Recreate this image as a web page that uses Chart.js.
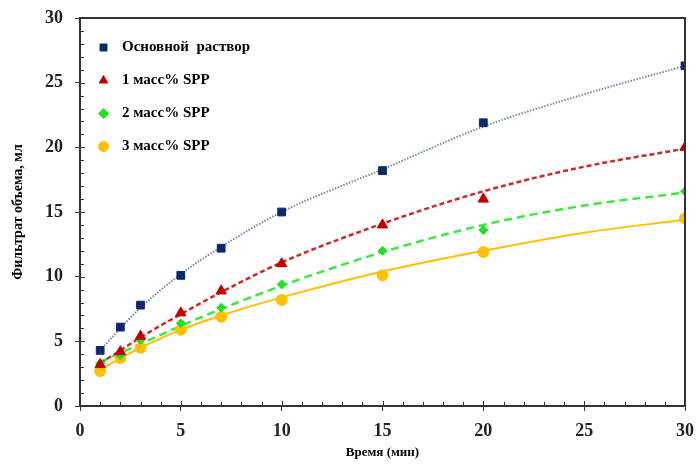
<!DOCTYPE html>
<html>
<head>
<meta charset="utf-8">
<script src="https://cdn.jsdelivr.net/npm/chart.js@4.4.0/dist/chart.umd.min.js"></script>
<style>
  html, body { margin: 0; padding: 0; background: #fff; }
  #wrap { width: 697px; height: 464px; }
</style>
</head>
<body>
<div id="wrap"><canvas id="filtrChart" width="697" height="464"></canvas></div>
<script>
// time, min
const times = [1, 2, 3, 5, 7, 10, 15, 20, 30];
// measured filtrate volume, ml
const baseFluid = [4.3, 6.1, 7.8, 10.1, 12.2, 15.0, 18.2, 21.9, 26.3];
const spp1 = [3.2, 4.2, 5.4, 7.2, 8.9, 11.0, 14.0, 16.0, 20.0];
const spp2 = [3.3, 3.9, 5.1, 6.4, 7.6, 9.4, 12.0, 13.6, 16.6];
const spp3 = [2.7, 3.7, 4.5, 5.9, 6.9, 8.2, 10.1, 11.9, 14.5];

// trendlines
const trendTimes = [1, 2, 3, 5, 7, 10, 15, 20, 25, 30];
const baseTrend = [4.3, 6.0, 7.6, 10.2, 12.3, 15.0, 18.3, 21.6, 24.1, 26.3];
const spp1Trend = [3.3, 4.3, 5.3, 7.1, 8.8, 11.1, 14.1, 16.6, 18.5, 19.9];
const spp2Trend = [3.4, 4.1, 4.8, 6.2, 7.5, 9.3, 11.9, 14.0, 15.5, 16.5];
const spp3Trend = [2.8, 3.7, 4.5, 5.9, 7.0, 8.4, 10.4, 12.0, 13.4, 14.4];

const seriesNames = ["Основной  раствор", "1 масс% SPP", "2 масс% SPP", "3 масс% SPP"];

function pts(xs, ys) {
    return xs.map(function (x, i) { return { x: x, y: ys[i] }; });
}

const axisColor = "#333333";
const serif = "'Liberation Serif', 'Times New Roman', serif";

// minor ticks inside the frame + top/right frame lines
const framePlugin = {
    id: "frame",
    afterLayout(chart) {
        // legend sits a bit lower and to the right inside the plot
        chart.legend.top += 22;
        chart.legend.bottom += 22;
        chart.legend.left += 2;
    },
    afterDraw(chart) {
        const c = chart.ctx;
        const a = chart.chartArea;
        const xs = chart.scales.x, ys = chart.scales.y;
        c.save();
        c.strokeStyle = axisColor;
        c.lineWidth = 2;
        c.beginPath();
        c.moveTo(a.left, a.top);
        c.lineTo(a.right, a.top);
        c.lineTo(a.right, a.bottom);
        c.stroke();
        c.lineWidth = 1;
        c.beginPath();
        for (let v = 1; v < 30; v++) {
            const len = v % 5 === 0 ? 5 : 4;
            const px = Math.round(xs.getPixelForValue(v)) + 0.5;
            c.moveTo(px, a.bottom);
            c.lineTo(px, a.bottom - len);
            const py = Math.round(ys.getPixelForValue(v)) + 0.5;
            c.moveTo(a.left, py);
            c.lineTo(a.left + len, py);
        }
        c.stroke();
        c.restore();
    }
};

new Chart(document.getElementById("filtrChart").getContext("2d"), {
    type: "scatter",
    data: {
        datasets: [
            {
                label: seriesNames[0],
                data: pts(times, baseFluid),
                pointStyle: "rect",
                pointRadius: 5.5,
                backgroundColor: "#0b2a6b",
                borderColor: "#0b2a6b",
                order: 0
            },
            {
                label: seriesNames[1],
                data: pts(times, spp1),
                pointStyle: "triangle",
                pointRadius: 6,
                backgroundColor: "#c00000",
                borderColor: "#c00000",
                order: 0
            },
            {
                label: seriesNames[2],
                data: pts(times, spp2),
                pointStyle: "rectRot",
                pointRadius: 4.5,
                backgroundColor: "#22e022",
                borderColor: "#22e022",
                order: 0
            },
            {
                label: seriesNames[3],
                data: pts(times, spp3),
                pointStyle: "circle",
                pointRadius: 5.5,
                backgroundColor: "#ffc000",
                borderColor: "#ffc000",
                order: 0
            },
            {
                label: "trend0",
                data: pts(trendTimes, baseTrend),
                showLine: true,
                pointRadius: 0,
                borderColor: "#7686a8",
                borderWidth: 2,
                borderDash: [1.5, 1.5],
                cubicInterpolationMode: "monotone",
                order: 1
            },
            {
                label: "trend1",
                data: pts(trendTimes, spp1Trend),
                showLine: true,
                pointRadius: 0,
                borderColor: "#cc2a2a",
                borderWidth: 2.5,
                borderDash: [5, 3],
                cubicInterpolationMode: "monotone",
                order: 1
            },
            {
                label: "trend2",
                data: pts(trendTimes, spp2Trend),
                showLine: true,
                pointRadius: 0,
                borderColor: "#3ee63e",
                borderWidth: 2.5,
                borderDash: [8, 5],
                cubicInterpolationMode: "monotone",
                order: 1
            },
            {
                label: "trend3",
                data: pts(trendTimes, spp3Trend),
                showLine: true,
                pointRadius: 0,
                borderColor: "#ffc000",
                borderWidth: 2,
                cubicInterpolationMode: "monotone",
                order: 1
            }
        ]
    },
    options: {
        responsive: false,
        animation: false,
        layout: { autoPadding: false, padding: { top: 18, right: 12, left: 0, bottom: 0 } },
        plugins: {
            tooltip: { enabled: false },
            legend: {
                position: "chartArea",
                align: "start",
                labels: {
                    filter: function (item) { return item.text.indexOf("trend") !== 0; },
                    generateLabels: function (chart) {
                        const items = Chart.defaults.plugins.legend.labels.generateLabels(chart);
                        items.forEach(function (it) {
                            if (it.text.indexOf("trend") !== 0) it.text = "  " + it.text;
                        });
                        return items;
                    },
                    usePointStyle: true,
                    boxWidth: 7,
                    boxHeight: 7,
                    padding: 18,
                    color: "#000",
                    font: { family: serif, size: 15, weight: "bold" }
                }
            }
        },
        scales: {
            x: {
                min: 0,
                max: 30,
                afterFit: function (scale) {
                    scale.height = 58;
                    scale.paddingLeft = 0;
                    scale.paddingRight = 0;
                },
                ticks: { stepSize: 5, color: "#222", padding: 10, font: { family: serif, size: 18, weight: "bold" } },
                grid: { drawOnChartArea: false, tickLength: 5, color: axisColor },
                border: { color: axisColor, width: 2 },
                title: {
                    display: true,
                    text: "Время (мин)",
                    color: "#000",
                    padding: { top: 0, bottom: 4 },
                    font: { family: serif, size: 13, weight: "bold" }
                }
            },
            y: {
                min: 0,
                max: 30,
                afterFit: function (scale) {
                    scale.width = 80;
                    scale.paddingTop = 0;
                    scale.paddingBottom = 0;
                },
                ticks: { stepSize: 5, color: "#222", padding: 12, font: { family: serif, size: 18, weight: "bold" } },
                grid: { drawOnChartArea: false, tickLength: 5, color: axisColor },
                border: { color: axisColor, width: 2 },
                title: {
                    display: true,
                    text: "Фильтрат объема, мл",
                    color: "#000",
                    padding: { top: 10, bottom: 0 },
                    font: { family: serif, size: 14, weight: "bold" }
                }
            }
        }
    },
    plugins: [framePlugin]
});
</script>
</body>
</html>
